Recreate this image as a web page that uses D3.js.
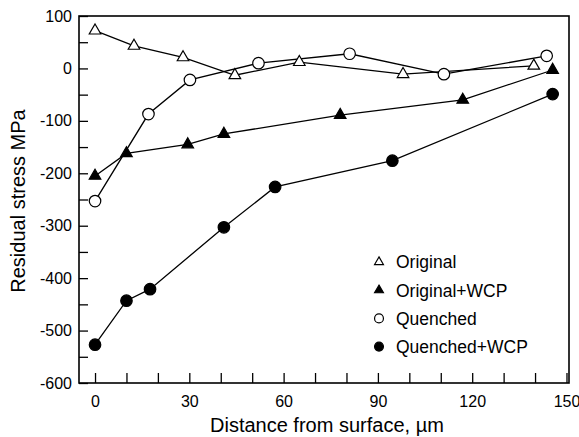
<!DOCTYPE html>
<html>
<head>
<meta charset="utf-8">
<script src="https://cdn.jsdelivr.net/npm/d3@7"></script>
<style>
  body { margin: 0; background: #fff; }
  text { font-family: "Liberation Sans", Arial, sans-serif; fill: #000; }
</style>
</head>
<body>
<div id="chart"></div>
<script>
// series (distance um, stress MPa)
const originalX = [0, 12.4, 28, 44.5, 65, 98, 139.6];
const originalY = [72, 43, 21, -13, 12, -11, 5];

const originalWcpX = [0, 10, 29.5, 41, 78, 117, 145.6];
const originalWcpY = [-205, -162, -145, -125, -89, -60, -3];

const quenchedX = [0, 17, 30.2, 52, 81, 111, 143.7];
const quenchedY = [-253, -87, -22, 10, 28, -11, 24];

const quenchedWcpX = [0, 10, 17.5, 41, 57.3, 94.6, 145.6];
const quenchedWcpY = [-527, -443, -421, -303, -226, -176, -49];

const seriesNames = ['Original', 'Original+WCP', 'Quenched', 'Quenched+WCP'];

const xTicks = [0, 30, 60, 90, 120, 150];
const yTicks = [100, 0, -100, -200, -300, -400, -500, -600];

const width = 579, height = 437;
const plot = { left: 79, top: 16, right: 569, bottom: 383 };

const svg = d3.select('#chart')
  .append('svg')
  .attr('width', width)
  .attr('height', height);

const xscale = d3.scaleLinear()
  .domain([-5.1, 150.8])
  .range([plot.left, plot.right]);

const yscale = d3.scaleLinear()
  .domain([100, -600])
  .range([plot.top, plot.bottom]);

// inward ticks on the bottom and left, labels every 30 / 100
const xaxis = d3.axisBottom(xscale)
  .tickValues(d3.range(0, 151, 10))
  .tickSize(-10)
  .tickFormat((d) => xTicks.includes(d) ? d : '');

const yaxis = d3.axisLeft(yscale)
  .tickValues(d3.range(-600, 101, 50))
  .tickSize(-9)
  .tickFormat((d) => yTicks.includes(d) ? d : '');

const gx = svg.append('g')
  .attr('transform', `translate(0, ${plot.bottom})`)
  .call(xaxis);
gx.select('.domain').remove();
gx.selectAll('line').attr('stroke-width', 1.3);
gx.selectAll('text')
  .attr('y', 13)
  .attr('dy', '0.71em')
  .style('font-size', '16px');

const gy = svg.append('g')
  .attr('transform', `translate(${plot.left}, 0)`)
  .call(yaxis);
gy.select('.domain').remove();
gy.selectAll('line').attr('stroke-width', 1.3);
gy.selectAll('text')
  .attr('x', -7)
  .style('font-size', '16px');

// frame
svg.append('rect')
  .attr('x', plot.left)
  .attr('y', plot.top)
  .attr('width', plot.right - plot.left)
  .attr('height', plot.bottom - plot.top)
  .attr('fill', 'none')
  .attr('stroke', '#000')
  .attr('stroke-width', 1.6);

svg.append('text')
  .attr('x', 210)
  .attr('y', 432)
  .style('font-size', '20px')
  .text('Distance from surface, \u00b5m');

svg.append('text')
  .attr('transform', 'translate(25, 201) rotate(-90)')
  .attr('text-anchor', 'middle')
  .style('font-size', '20px')
  .text('Residual stress MPa');

const series = [
  { name: seriesNames[0], xs: originalX, ys: originalY, shape: d3.symbolTriangle, fill: '#fff' },
  { name: seriesNames[1], xs: originalWcpX, ys: originalWcpY, shape: d3.symbolTriangle, fill: '#000' },
  { name: seriesNames[2], xs: quenchedX, ys: quenchedY, shape: d3.symbolCircle, fill: '#fff' },
  { name: seriesNames[3], xs: quenchedWcpX, ys: quenchedWcpY, shape: d3.symbolCircle, fill: '#000' }
];

const line = d3.line()
  .x((d) => xscale(d[0]))
  .y((d) => yscale(d[1]));

series.forEach((s) => {
  const pts = s.xs.map((x, i) => [x, s.ys[i]]);
  svg.append('path')
    .datum(pts)
    .attr('d', line)
    .attr('fill', 'none')
    .attr('stroke', '#000')
    .attr('stroke-width', 1.3);
});

series.forEach((s) => {
  const pts = s.xs.map((x, i) => [x, s.ys[i]]);
  const size = s.shape === d3.symbolTriangle ? 58 : 104;
  svg.append('g')
    .selectAll('path')
    .data(pts)
    .enter()
    .append('path')
    .attr('d', d3.symbol().type(s.shape).size(size))
    .attr('transform', (d) => `translate(${xscale(d[0])}, ${yscale(d[1])})`)
    .attr('fill', s.fill)
    .attr('stroke', '#000')
    .attr('stroke-width', 1.2);
});

// legend
const legend = svg.append('g')
  .attr('transform', 'translate(379, 262)');

const rows = legend.selectAll('g')
  .data(series)
  .enter()
  .append('g')
  .attr('transform', (d, i) => `translate(0, ${i * 28.2})`);

rows.append('path')
  .attr('d', (d) => d3.symbol().type(d.shape).size(d.shape === d3.symbolTriangle ? 34 : 62)())
  .attr('fill', (d) => d.fill)
  .attr('stroke', '#000')
  .attr('stroke-width', 1.2);

rows.append('text')
  .attr('x', 17)
  .attr('dy', '0.36em')
  .style('font-size', '17.5px')
  .text((d) => d.name);
</script>
</body>
</html>
